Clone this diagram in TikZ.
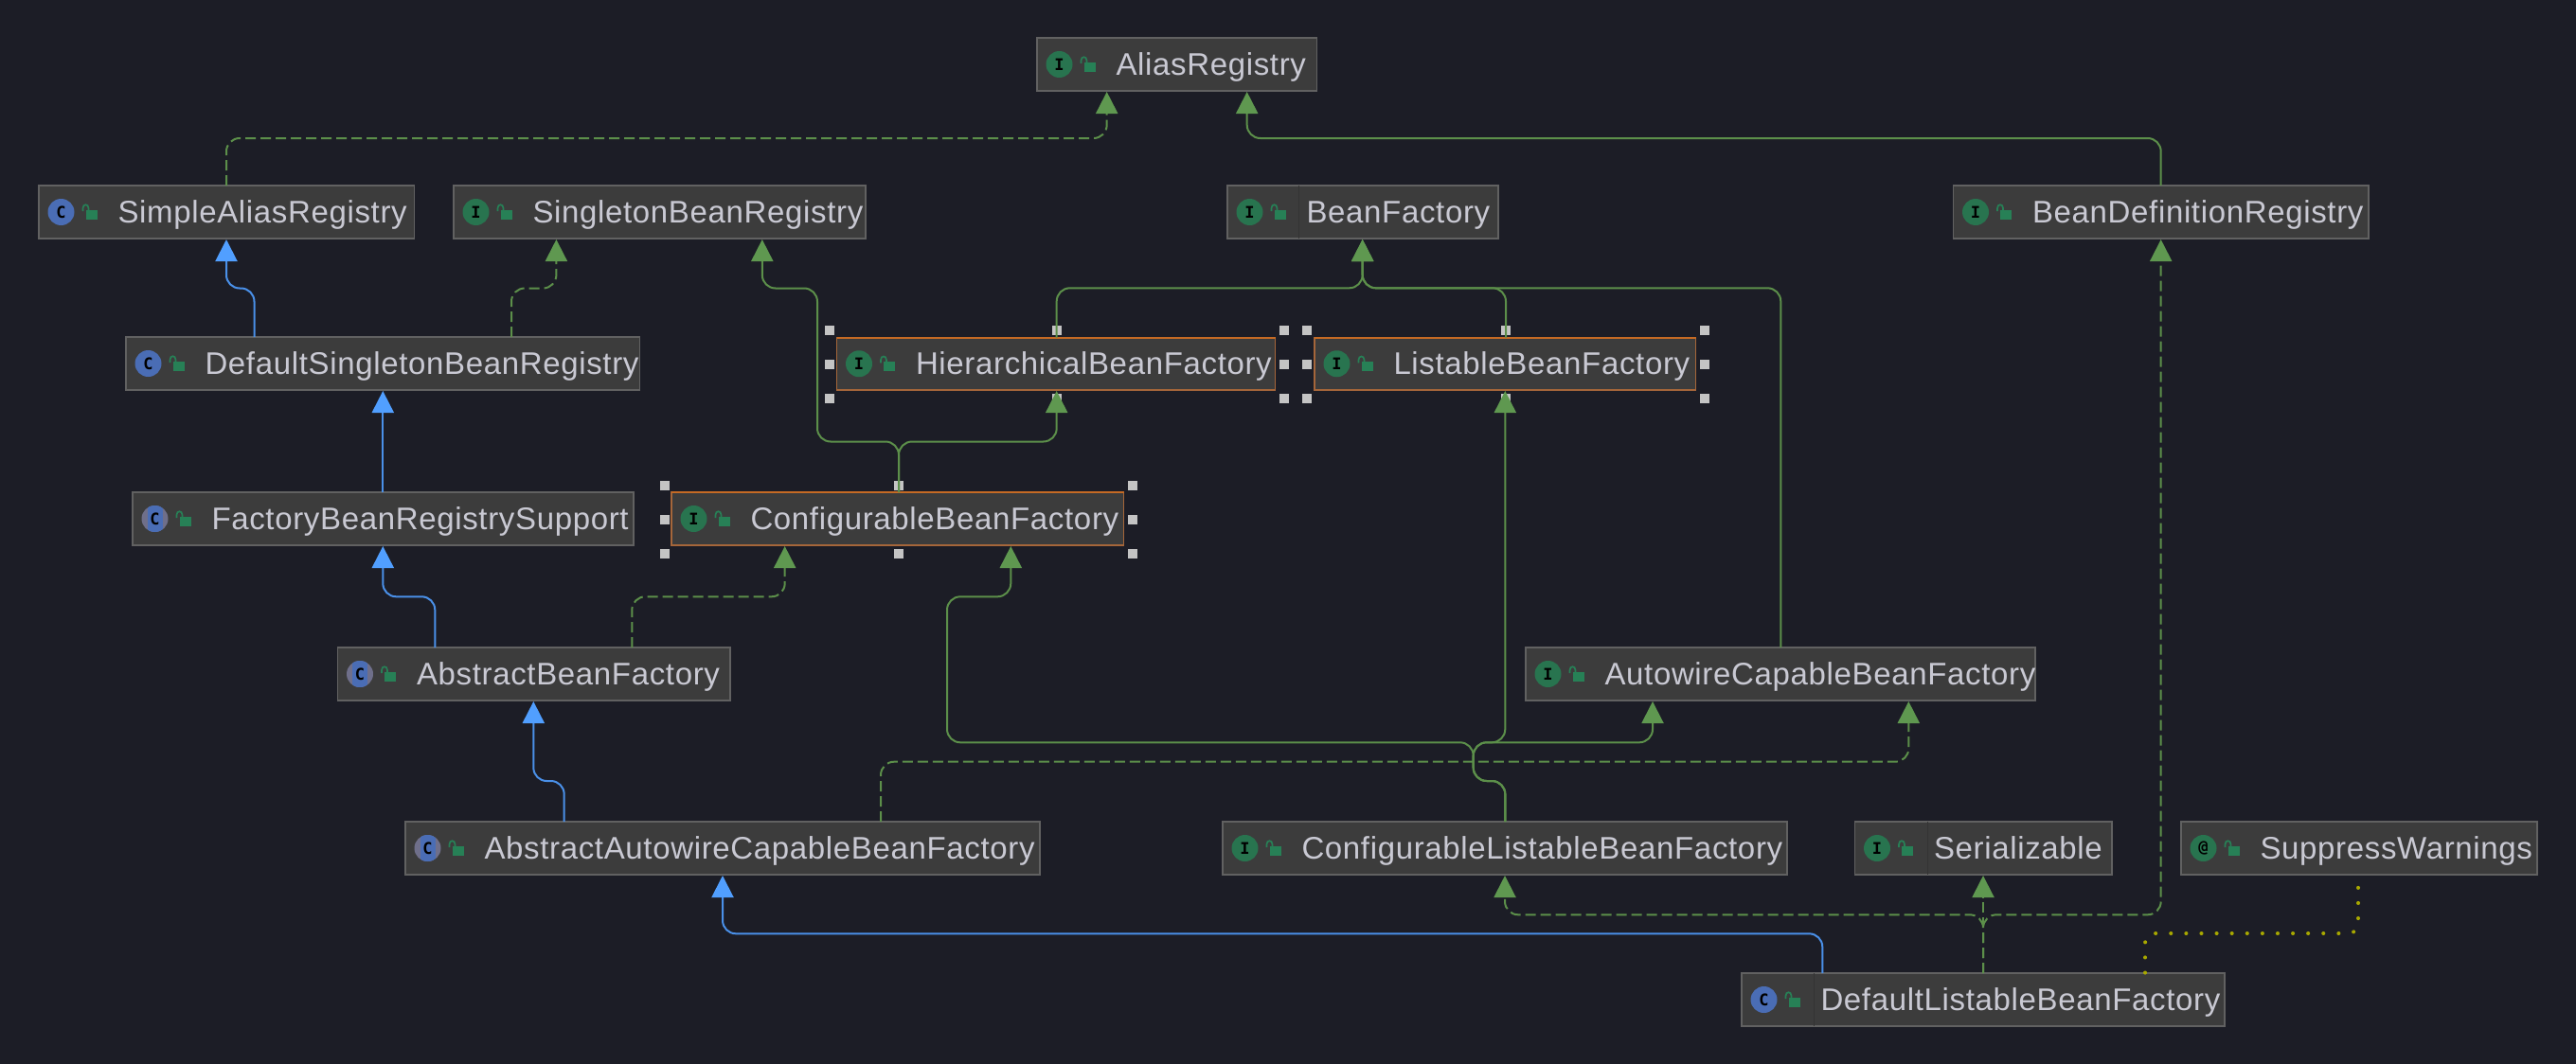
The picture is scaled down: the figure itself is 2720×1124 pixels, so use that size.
\documentclass[tikz,border=0pt]{standalone}
\usepackage{fontspec}
\setmainfont[LetterSpace=2]{Liberation Sans}
\newfontfamily\iconfont{DejaVu Sans Mono}
\usetikzlibrary{arrows.meta}
\definecolor{bgc}{HTML}{1C1D26}
\definecolor{boxc}{HTML}{3C3C3C}
\definecolor{edgec}{HTML}{616161}
\definecolor{selc}{HTML}{A5663A}
\definecolor{seltop}{HTML}{C56A24}
\definecolor{txtc}{HTML}{C9C9D3}
\definecolor{igreen}{HTML}{28744F}
\definecolor{lockc}{HTML}{278056}
\definecolor{iblue}{HTML}{4A6DB5}
\definecolor{igrey}{HTML}{6F6F8A}
\definecolor{hand}{HTML}{C4C4C4}
\definecolor{gline}{HTML}{5C8F4A}
\definecolor{gtip}{HTML}{5F9850}
\definecolor{bline}{HTML}{4A90E8}
\definecolor{btip}{HTML}{519FFF}
\definecolor{dotc}{HTML}{A8A800}
\definecolor{sepc}{HTML}{343434}
\tikzset{
  plainbox/.style={draw=edgec,fill=boxc,line width=1.6pt,inner sep=0pt,outer sep=0pt},
  selbox/.style={draw=selc,fill=boxc,line width=1.4pt,inner sep=0pt,outer sep=0pt},
  nametext/.style={text=txtc,inner sep=0pt,outer sep=0pt,font=\fontsize{33}{39}\selectfont},
  iconbase/.style={circle,minimum size=28pt,inner sep=0pt,text=black,font=\iconfont\fontsize{17}{17}\selectfont},
  iconI/.style={iconbase,fill=igreen},
  iconC/.style={iconbase,fill=iblue},
  iconA/.style={iconbase,fill=igrey,path picture={\fill[iblue] ([xshift=-8pt]path picture bounding box.north) rectangle ([xshift=8pt]path picture bounding box.south);}},
  iconAt/.style={iconbase,fill=igreen},
  lockbody/.style={fill=lockc,inner sep=0pt,minimum width=12pt,minimum height=10pt},
  lockarc/.style={draw=lockc,line width=1.7pt},
  handle/.style={fill=hand,inner sep=0pt,minimum size=10pt},
  tipg/.style={-{Triangle[width=23pt,length=23pt,color=gtip]},shorten >=1pt},
  tipb/.style={-{Triangle[width=23pt,length=23pt,color=btip]},shorten >=1pt},
  extline/.style={draw=gline,line width=2pt,rounded corners=14pt,tipg},
  implline/.style={extline,dash pattern=on 11pt off 5pt},
  clsline/.style={draw=bline,line width=2pt,rounded corners=14pt,tipb},
  dotline/.style={draw=dotc,line width=4pt,rounded corners=10pt,line cap=round,dash pattern=on 0.1pt off 16pt,dash phase=2.3pt},
  seprule/.style={draw=sepc,line width=1pt}
}
% [style]{name}{x1}{y1}{x2}{y2}{kind}{text}
\newcommand{\umlbox}[8][plainbox]{%
  \pgfmathsetmacro\bw{#5-#3}\pgfmathsetmacro\bh{#6-#4}%
  \pgfmathsetmacro\cx{(#3+#5)/2}\pgfmathsetmacro\cy{(#4+#6)/2}%
  \pgfmathsetmacro\tx{#3+83.5}\pgfmathsetmacro\ty{\cy+11.5}%
  \pgfmathsetmacro\ix{#3+23.5}%
  \pgfmathsetmacro\lx{\ix+32}\pgfmathsetmacro\ly{\cy+3}%
  \pgfmathsetmacro\aa{\ix+23}\pgfmathsetmacro\ab{\ix+29}%
  \pgfmathsetmacro\ac{\cy-1}\pgfmathsetmacro\ad{\cy-4}\pgfmathsetmacro\ae{\cy-9}\pgfmathsetmacro\af{\cy-2}%
  \node[#1,minimum width=\bw pt,minimum height=\bh pt] (#2) at (\cx,\cy) {};
  \node[nametext,anchor=base west] (#2-text) at (\tx,\ty) {#8};
  \node[icon#7] (#2-icon) at (\ix,\cy) {\csname glyph#7\endcsname};
  \node[lockbody] (#2-lock) at (\lx,\ly) {};
  \draw[lockarc] (\aa,\ac) -- (\aa,\ad) .. controls (\aa,\ae) and (\ab,\ae) .. (\ab,\ad) -- (\ab,\af);
}
\newcommand\glyphI{\textbf{I}}
\newcommand\glyphC{\textbf{C}}
\newcommand\glyphA{\textbf{C}}
\newcommand\glyphAt{\textbf{@}}
% {name}{x1}{xm}{x2}{y1}{ym}{y2}
\newcommand{\handles}[7]{%
  \node[handle] (#1-h1) at (#2,#5) {};
  \node[handle] (#1-h2) at (#3,#5) {};
  \node[handle] (#1-h3) at (#4,#5) {};
  \node[handle] (#1-h4) at (#2,#6) {};
  \node[handle] (#1-h5) at (#4,#6) {};
  \node[handle] (#1-h6) at (#2,#7) {};
  \node[handle] (#1-h7) at (#3,#7) {};
  \node[handle] (#1-h8) at (#4,#7) {};
}
\begin{document}
\begin{tikzpicture}[x=1pt,y=-1pt]
\path[fill=bgc,use as bounding box] (0,0) rectangle (2720,1124);

\umlbox{alias}{1095}{40}{1390.5}{96}{I}{AliasRegistry}
\umlbox{sar}{41}{196}{437.5}{252}{C}{SimpleAliasRegistry}
\umlbox{sbr}{479}{196}{914}{252}{I}{SingletonBeanRegistry}
\umlbox{bf}{1296}{196}{1582}{252}{I}{BeanFactory}
\umlbox{bdr}{2062.5}{196}{2501}{252}{I}{BeanDefinitionRegistry}
\umlbox{dsbr}{133}{356}{675.5}{412}{C}{DefaultSingletonBeanRegistry}
\umlbox[selbox]{hbf}{883.5}{356.5}{1346.5}{412}{I}{HierarchicalBeanFactory}
\umlbox[selbox]{lbf}{1388}{356.5}{1790.5}{412}{I}{ListableBeanFactory}
\umlbox{fbrs}{140}{520}{669}{576}{A}{FactoryBeanRegistrySupport}
\umlbox[selbox]{cbf}{709}{520}{1186.5}{576}{I}{ConfigurableBeanFactory}
\umlbox{abf}{356.5}{684}{771}{740}{A}{AbstractBeanFactory}
\umlbox{acbf}{1611}{684}{2149}{740}{I}{AutowireCapableBeanFactory}
\umlbox{aac}{428}{868}{1098}{924}{A}{AbstractAutowireCapableBeanFactory}
\umlbox{clbf}{1291}{868}{1887}{924}{I}{ConfigurableListableBeanFactory}
\umlbox{ser}{1958.5}{868}{2230}{924}{I}{Serializable}
\umlbox{sw}{2303}{868}{2679}{924}{At}{SuppressWarnings}
\umlbox{dlbf}{1839}{1028}{2349}{1084}{C}{DefaultListableBeanFactory}

% subtle gutter rules
\draw[seprule] (1371.7,0 |- bf.north) -- (1371.7,0 |- bf.south);
\draw[seprule] (2035,0 |- ser.north) -- (2035,0 |- ser.south);
\draw[seprule] (1915.6,0 |- dlbf.north) -- (1915.6,0 |- dlbf.south);

% selected tops
\draw[seltop,line width=2pt] (hbf.north west) -- (hbf.north east);
\draw[seltop,line width=2pt] (lbf.north west) -- (lbf.north east);
\draw[seltop,line width=2pt] (cbf.north west) -- (cbf.north east);

\handles{hbf}{876}{1116}{1356}{349}{385}{421}
\handles{lbf}{1380}{1590}{1800}{349}{385}{421}
\handles{cbf}{702}{949}{1196}{513}{549}{585}

% SimpleAliasRegistry -> AliasRegistry
\draw[implline] (239,0 |- sar.north) -- (239,146) -- (1168.7,146) -- (1168.7,0 |- alias.south);
% BeanDefinitionRegistry -> AliasRegistry
\draw[extline] (2281.7,0 |- bdr.north) -- (2281.7,146) -- (1316.7,146) -- (1316.7,0 |- alias.south);
% DefaultSingleton -> SimpleAlias / Singleton
\draw[clsline] (268.5,0 |- dsbr.north) -- (268.5,304.5) -- (239,304.5) -- (239,0 |- sar.south);
\draw[implline] (540,0 |- dsbr.north) -- (540,304.5) -- (587.4,304.5) -- (587.4,0 |- sbr.south);
% FactoryBeanRegistrySupport -> DefaultSingleton
\draw[clsline] (404.3,0 |- fbrs.north) -- (404.3,0 |- dsbr.south);
% AbstractBeanFactory
\draw[clsline] (459.3,0 |- abf.north) -- (459.3,630.3) -- (404.3,630.3) -- (404.3,0 |- fbrs.south);
\draw[implline] (667.3,0 |- abf.north) -- (667.3,630.3) -- (828.7,630.3) -- (828.7,0 |- cbf.south);
% AbstractAutowire
\draw[clsline] (595.7,0 |- aac.north) -- (595.7,825) -- (563.3,825) -- (563.3,0 |- abf.south);
\draw[implline] (930,0 |- aac.north) -- (930,804.7) -- (2015.3,804.7) -- (2015.3,0 |- acbf.south);
% ConfigurableBeanFactory
\draw[extline] (949,0 |- cbf.north) -- (949,466.5) -- (863,466.5) -- (863,304.5) -- (804.8,304.5) -- (804.8,0 |- sbr.south);
\draw[extline] (949,0 |- cbf.north) -- (949,466.5) -- (1115.7,466.5) -- (1115.7,0 |- hbf.south);
% -> BeanFactory
\draw[extline] (1115.7,0 |- hbf.north) -- (1115.7,304.3) -- (1438.7,304.3) -- (1438.7,0 |- bf.south);
\draw[extline] (1590,0 |- lbf.north) -- (1590,304.3) -- (1438.7,304.3) -- (1438.7,0 |- bf.south);
\draw[extline] (1880.3,0 |- acbf.north) -- (1880.3,304.3) -- (1438.7,304.3) -- (1438.7,0 |- bf.south);
% ConfigurableListable
\draw[extline] (1589.3,0 |- clbf.north) -- (1589.3,825) -- (1555.7,825) -- (1555.7,784.3) -- (1000,784.3) -- (1000,630.3) -- (1067.3,630.3) -- (1067.3,0 |- cbf.south);
\draw[extline] (1589.3,0 |- clbf.north) -- (1589.3,825) -- (1555.7,825) -- (1555.7,784.3) -- (1589.3,784.3) -- (1589.3,0 |- lbf.south);
\draw[extline] (1589.3,0 |- clbf.north) -- (1589.3,825) -- (1555.7,825) -- (1555.7,784.3) -- (1745,784.3) -- (1745,0 |- acbf.south);
% DefaultListable
\draw[clsline] (1924.3,0 |- dlbf.north) -- (1924.3,986.3) -- (763,986.3) -- (763,0 |- aac.south);
\draw[implline] (2094,0 |- dlbf.north) -- (2094,966.3) -- (1589,966.3) -- (1589,0 |- clbf.south);
\draw[implline] (2094,0 |- dlbf.north) -- (2094,0 |- ser.south);
\draw[implline] (2094,0 |- dlbf.north) -- (2094,966.3) -- (2281.7,966.3) -- (2281.7,0 |- bdr.south);
\draw[dotline] (2490,0 |- sw.south) -- (2490,986) -- (2265,986) -- (2265,0 |- dlbf.north);
\end{tikzpicture}
\end{document}
